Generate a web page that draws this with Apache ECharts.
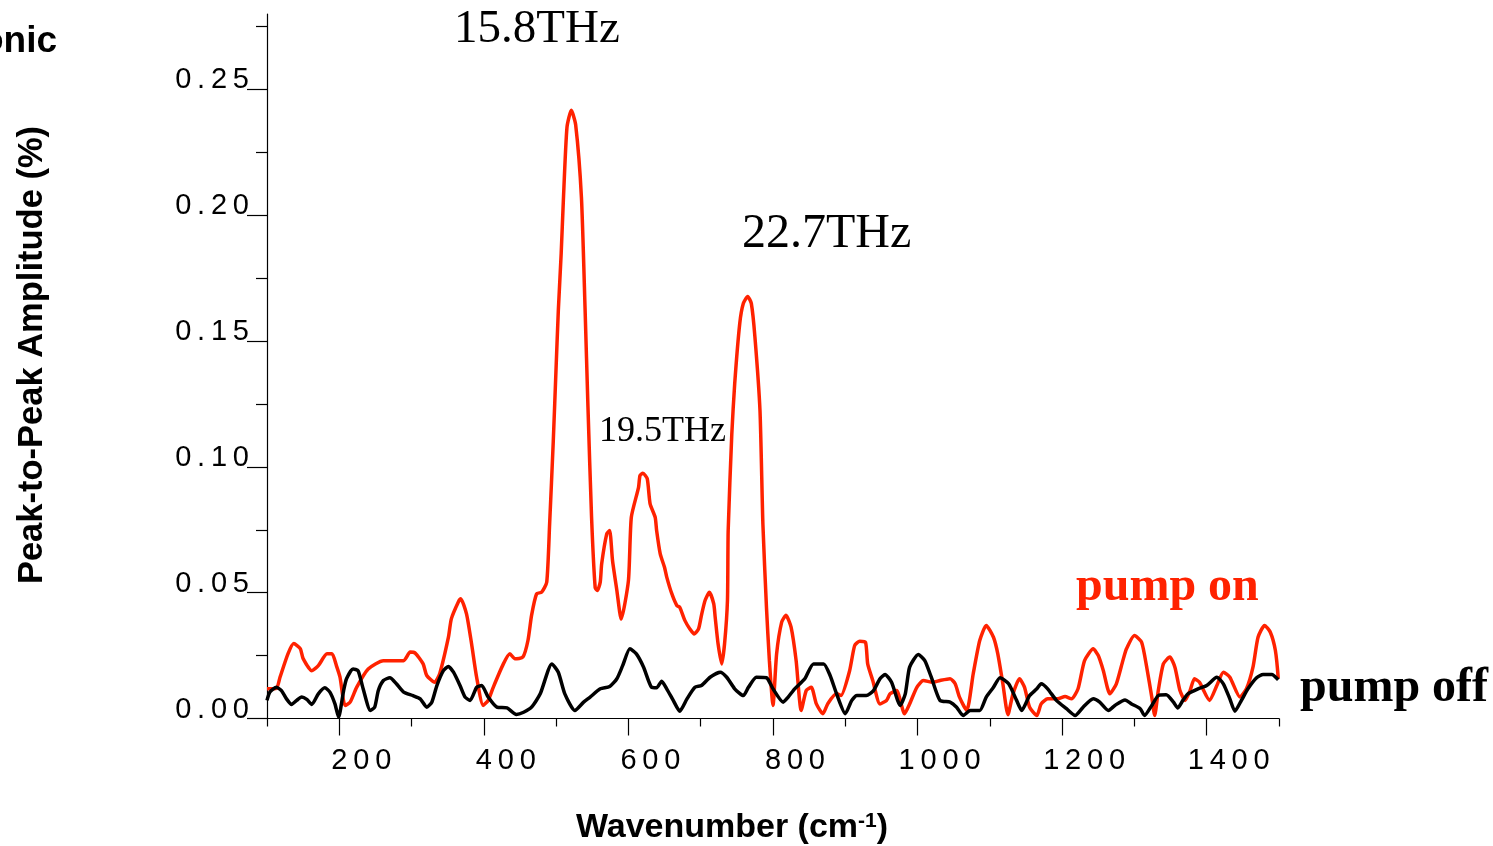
<!DOCTYPE html>
<html>
<head>
<meta charset="utf-8">
<title>Peak-to-Peak Amplitude spectrum</title>
<script src="https://cdn.jsdelivr.net/npm/echarts@6/dist/echarts.min.js"></script>
<style>
  html, body { margin: 0; padding: 0; background: #fff; }
  #chart { width: 1493px; height: 846px; }
</style>
</head>
<body>
<div id="chart"></div>
<script>
// Spectrum with the pump on (red)
const pumpOnWavenumber = [100,113,118,129,137,146,150,162,171,183,190,196,201,208,215,224,240,261,289,298,305,316,321,332,339,351,355,365,368,376,383,390,399,406,413,427,436,443,454,461,466,473,480,487,491,496,500,503,507,510,515,521,527,535,540,544,549,554,557,561,563,570,574,578,584,590,600,604,614,616,620,626,630,637,639,644,650,653,660,667,671,678,685,691,697,701,706,712,718,720,724,729,733,737,738,743,747,754,759,765,770,775,782,786,791,795,800,805,812,818,825,832,839,846,853,860,869,876,888,894,906,913,920,928,931,938,948,957,962,971,982,989,999,1008,1021,1031,1045,1052,1058,1068,1077,1086,1095,1105,1111,1118,1125,1132,1141,1148,1155,1165,1171,1180,1194,1204,1213,1222,1231,1243,1250,1257,1266,1275,1284,1289,1300,1310,1317,1324,1328,1333,1340,1349,1356,1363,1370,1377,1383,1390,1404,1414,1423,1432,1446,1455,1464,1471,1480,1488,1495,1499];
const pumpOnAmplitude = [0.0118,0.0120,0.0164,0.0257,0.0298,0.0278,0.0238,0.0190,0.0210,0.0257,0.0257,0.0210,0.0164,0.0052,0.0065,0.0124,0.0197,0.0230,0.0230,0.0264,0.0260,0.0217,0.0171,0.0144,0.0179,0.0323,0.0396,0.0465,0.0476,0.0416,0.0297,0.0164,0.0052,0.0072,0.0124,0.0217,0.0257,0.0237,0.0244,0.0310,0.0410,0.0496,0.0502,0.0542,0.0774,0.1100,0.1400,0.1620,0.1850,0.2060,0.2350,0.2417,0.2360,0.2070,0.1630,0.1240,0.0800,0.0520,0.0509,0.0542,0.0615,0.0734,0.0747,0.0628,0.0509,0.0395,0.0548,0.0800,0.0919,0.0966,0.0975,0.0953,0.0853,0.0800,0.0747,0.0654,0.0600,0.0562,0.0496,0.0449,0.0442,0.0390,0.0356,0.0336,0.0356,0.0410,0.0469,0.0502,0.0456,0.0403,0.0297,0.0217,0.0297,0.0469,0.0747,0.1130,0.1330,0.1570,0.1650,0.1677,0.1650,0.1516,0.1224,0.0774,0.0440,0.0230,0.0052,0.0257,0.0383,0.0410,0.0363,0.0230,0.0032,0.0111,0.0124,0.0058,0.0019,0.0060,0.0099,0.0091,0.0190,0.0290,0.0307,0.0303,0.0217,0.0151,0.0058,0.0072,0.0098,0.0111,0.0019,0.0058,0.0124,0.0151,0.0144,0.0151,0.0158,0.0138,0.0085,0.0032,0.0178,0.0310,0.0370,0.0323,0.0257,0.0138,0.0015,0.0098,0.0158,0.0124,0.0045,0.0012,0.0058,0.0078,0.0078,0.0087,0.0078,0.0118,0.0230,0.0277,0.0250,0.0190,0.0098,0.0138,0.0230,0.0277,0.0330,0.0303,0.0204,0.0085,0.0012,0.0111,0.0217,0.0244,0.0204,0.0111,0.0072,0.0111,0.0158,0.0144,0.0072,0.0131,0.0184,0.0164,0.0085,0.0118,0.0204,0.0323,0.0370,0.0343,0.0270,0.0158];

// Spectrum with the pump off (black)
const pumpOffWavenumber = [100,104,113,120,127,134,141,148,155,162,171,180,187,194,199,206,210,219,226,233,243,249,254,261,270,279,289,302,312,321,328,335,344,351,358,367,374,381,390,397,406,418,432,445,455,466,478,494,503,512,526,538,547,561,574,584,592,602,611,621,632,639,646,653,662,671,681,692,701,713,727,736,747,759,766,777,791,800,814,821,830,844,856,870,879,888,900,909,916,929,939,948,955,964,976,983,989,1001,1010,1019,1031,1045,1054,1063,1073,1086,1095,1105,1114,1126,1137,1144,1155,1165,1171,1180,1192,1206,1218,1229,1243,1252,1264,1273,1287,1296,1308,1314,1324,1333,1344,1354,1360,1367,1374,1388,1400,1414,1423,1432,1439,1448,1457,1469,1478,1490,1499];
const pumpOffAmplitude = [0.0072,0.0105,0.0124,0.0111,0.0078,0.0056,0.0072,0.0085,0.0076,0.0056,0.0098,0.0122,0.0105,0.0058,0.0005,0.0111,0.0158,0.0197,0.0190,0.0118,0.0032,0.0045,0.0111,0.0151,0.0162,0.0138,0.0105,0.0091,0.0078,0.0045,0.0065,0.0131,0.0190,0.0207,0.0184,0.0131,0.0085,0.0072,0.0124,0.0131,0.0085,0.0045,0.0042,0.0016,0.0025,0.0045,0.0098,0.0217,0.0184,0.0098,0.0032,0.0065,0.0085,0.0118,0.0127,0.0158,0.0210,0.0277,0.0257,0.0204,0.0124,0.0122,0.0148,0.0118,0.0072,0.0029,0.0078,0.0124,0.0131,0.0164,0.0184,0.0164,0.0118,0.0091,0.0124,0.0164,0.0162,0.0118,0.0065,0.0085,0.0118,0.0158,0.0217,0.0217,0.0171,0.0098,0.0019,0.0072,0.0091,0.0091,0.0111,0.0158,0.0175,0.0144,0.0052,0.0098,0.0204,0.0254,0.0230,0.0164,0.0072,0.0065,0.0045,0.0012,0.0032,0.0032,0.0085,0.0124,0.0162,0.0138,0.0072,0.0032,0.0091,0.0118,0.0138,0.0118,0.0072,0.0039,0.0012,0.0045,0.0078,0.0065,0.0032,0.0052,0.0074,0.0058,0.0039,0.0012,0.0052,0.0091,0.0094,0.0065,0.0042,0.0072,0.0098,0.0118,0.0131,0.0164,0.0138,0.0078,0.0029,0.0072,0.0118,0.0162,0.0175,0.0175,0.0154];

// Axis ticks and labels
const xMajorTicks = [200, 400, 600, 800, 1000, 1200, 1400];
const xMinorTicks = [100, 300, 500, 700, 900, 1100, 1300, 1500];
const yMajorTicks = [0, 0.05, 0.10, 0.15, 0.20, 0.25];
const yMinorTicks = [0.025, 0.075, 0.125, 0.175, 0.225, 0.275];

const SANS = "'Liberation Sans', Arial, Helvetica, sans-serif";
const SERIF = "'Liberation Serif', 'Times New Roman', Times, serif";
const RED = '#ff2200';

// spread digits apart with thin spaces
const spaced = s => String(s).split('').join('\u2009');

const zip = (xs, ys) => xs.map((x, i) => [x, ys[i]]);

const chart = echarts.init(document.getElementById('chart'), null, { renderer: 'canvas' });

const option = {
  animation: false,
  backgroundColor: '#fff',
  grid: { left: 267, right: 214, top: 14, bottom: 127.5, containLabel: false },
  xAxis: [
    {
      type: 'value', min: 100, max: 1500,
      axisLine: { show: true, onZero: false, lineStyle: { color: '#000', width: 1.2 } },
      axisTick: { show: true, length: 17, customValues: xMajorTicks, lineStyle: { color: '#000', width: 1.2 } },
      axisLabel: {
        show: true, customValues: xMajorTicks, margin: 28,
        fontFamily: SANS, fontSize: 29, color: '#000',
        padding: [0, 0, 0, 44],
        formatter: v => spaced(v)
      },
      splitLine: { show: false }
    },
    {
      type: 'value', min: 100, max: 1500, position: 'bottom',
      axisLine: { show: false },
      axisTick: { show: true, length: 8, customValues: xMinorTicks, lineStyle: { color: '#000', width: 1.2 } },
      axisLabel: { show: false },
      splitLine: { show: false }
    }
  ],
  yAxis: [
    {
      type: 'value', min: 0, max: 0.28,
      axisLine: { show: true, onZero: false, lineStyle: { color: '#000', width: 1.2 } },
      axisTick: { show: true, length: 20, customValues: yMajorTicks, lineStyle: { color: '#000', width: 1.2 } },
      axisLabel: {
        show: true, customValues: yMajorTicks, margin: 18,
        fontFamily: SANS, fontSize: 29, color: '#000',
        verticalAlign: 'bottom', lineHeight: 18,
        formatter: v => spaced(v.toFixed(2))
      },
      splitLine: { show: false }
    },
    {
      type: 'value', min: 0, max: 0.28, position: 'left',
      axisLine: { show: false },
      axisTick: { show: true, length: 11, customValues: yMinorTicks, lineStyle: { color: '#000', width: 1.2 } },
      axisLabel: { show: false },
      splitLine: { show: false }
    }
  ],
  series: [
    {
      name: 'pump on', type: 'line', xAxisIndex: 0, yAxisIndex: 0,
      data: zip(pumpOnWavenumber, pumpOnAmplitude),
      showSymbol: false, smooth: 0.2,
      lineStyle: { color: RED, width: 3.5 }
    },
    {
      name: 'pump off', type: 'line', xAxisIndex: 0, yAxisIndex: 0,
      data: zip(pumpOffWavenumber, pumpOffAmplitude),
      showSymbol: false, smooth: 0.2,
      lineStyle: { color: '#000', width: 3.5 }
    }
  ],
  graphic: [
    {
      type: 'text', x: 57, y: 42,
      style: { text: 'Phononic', textAlign: 'right', textVerticalAlign: 'middle',
               font: 'bold 37px ' + SANS, fill: '#000' }
    },
    {
      type: 'text', x: 32, y: 355, rotation: Math.PI / 2,
      style: { text: 'Peak-to-Peak Amplitude (%)', textAlign: 'center', textVerticalAlign: 'middle',
               font: 'bold 34.5px ' + SANS, fill: '#000' }
    },
    {
      type: 'text', x: 732, y: 828,
      style: {
        text: 'Wavenumber (cm{sup|-1})', textAlign: 'center', textVerticalAlign: 'middle',
        font: 'bold 34px ' + SANS, fill: '#000',
        rich: { sup: { font: 'bold 21px ' + SANS, fill: '#000', verticalAlign: 'top', padding: [0, 0, 13, 0] } }
      }
    },
    {
      type: 'text', x: 454, y: 30,
      style: { text: '15.8THz', textAlign: 'left', textVerticalAlign: 'middle',
               font: '47px ' + SERIF, fill: '#000' }
    },
    {
      type: 'text', x: 742, y: 234,
      style: { text: '22.7THz', textAlign: 'left', textVerticalAlign: 'middle',
               font: '48px ' + SERIF, fill: '#000' }
    },
    {
      type: 'text', x: 599, y: 432,
      style: { text: '19.5THz', textAlign: 'left', textVerticalAlign: 'middle',
               font: '36px ' + SERIF, fill: '#000' }
    },
    {
      type: 'text', x: 1076, y: 588,
      style: { text: 'pump on', textAlign: 'left', textVerticalAlign: 'middle',
               font: 'bold 48px ' + SERIF, fill: RED }
    },
    {
      type: 'text', x: 1300, y: 689,
      style: { text: 'pump off', textAlign: 'left', textVerticalAlign: 'middle',
               font: 'bold 48px ' + SERIF, fill: '#000' }
    }
  ]
};

chart.setOption(option);
</script>
</body>
</html>
